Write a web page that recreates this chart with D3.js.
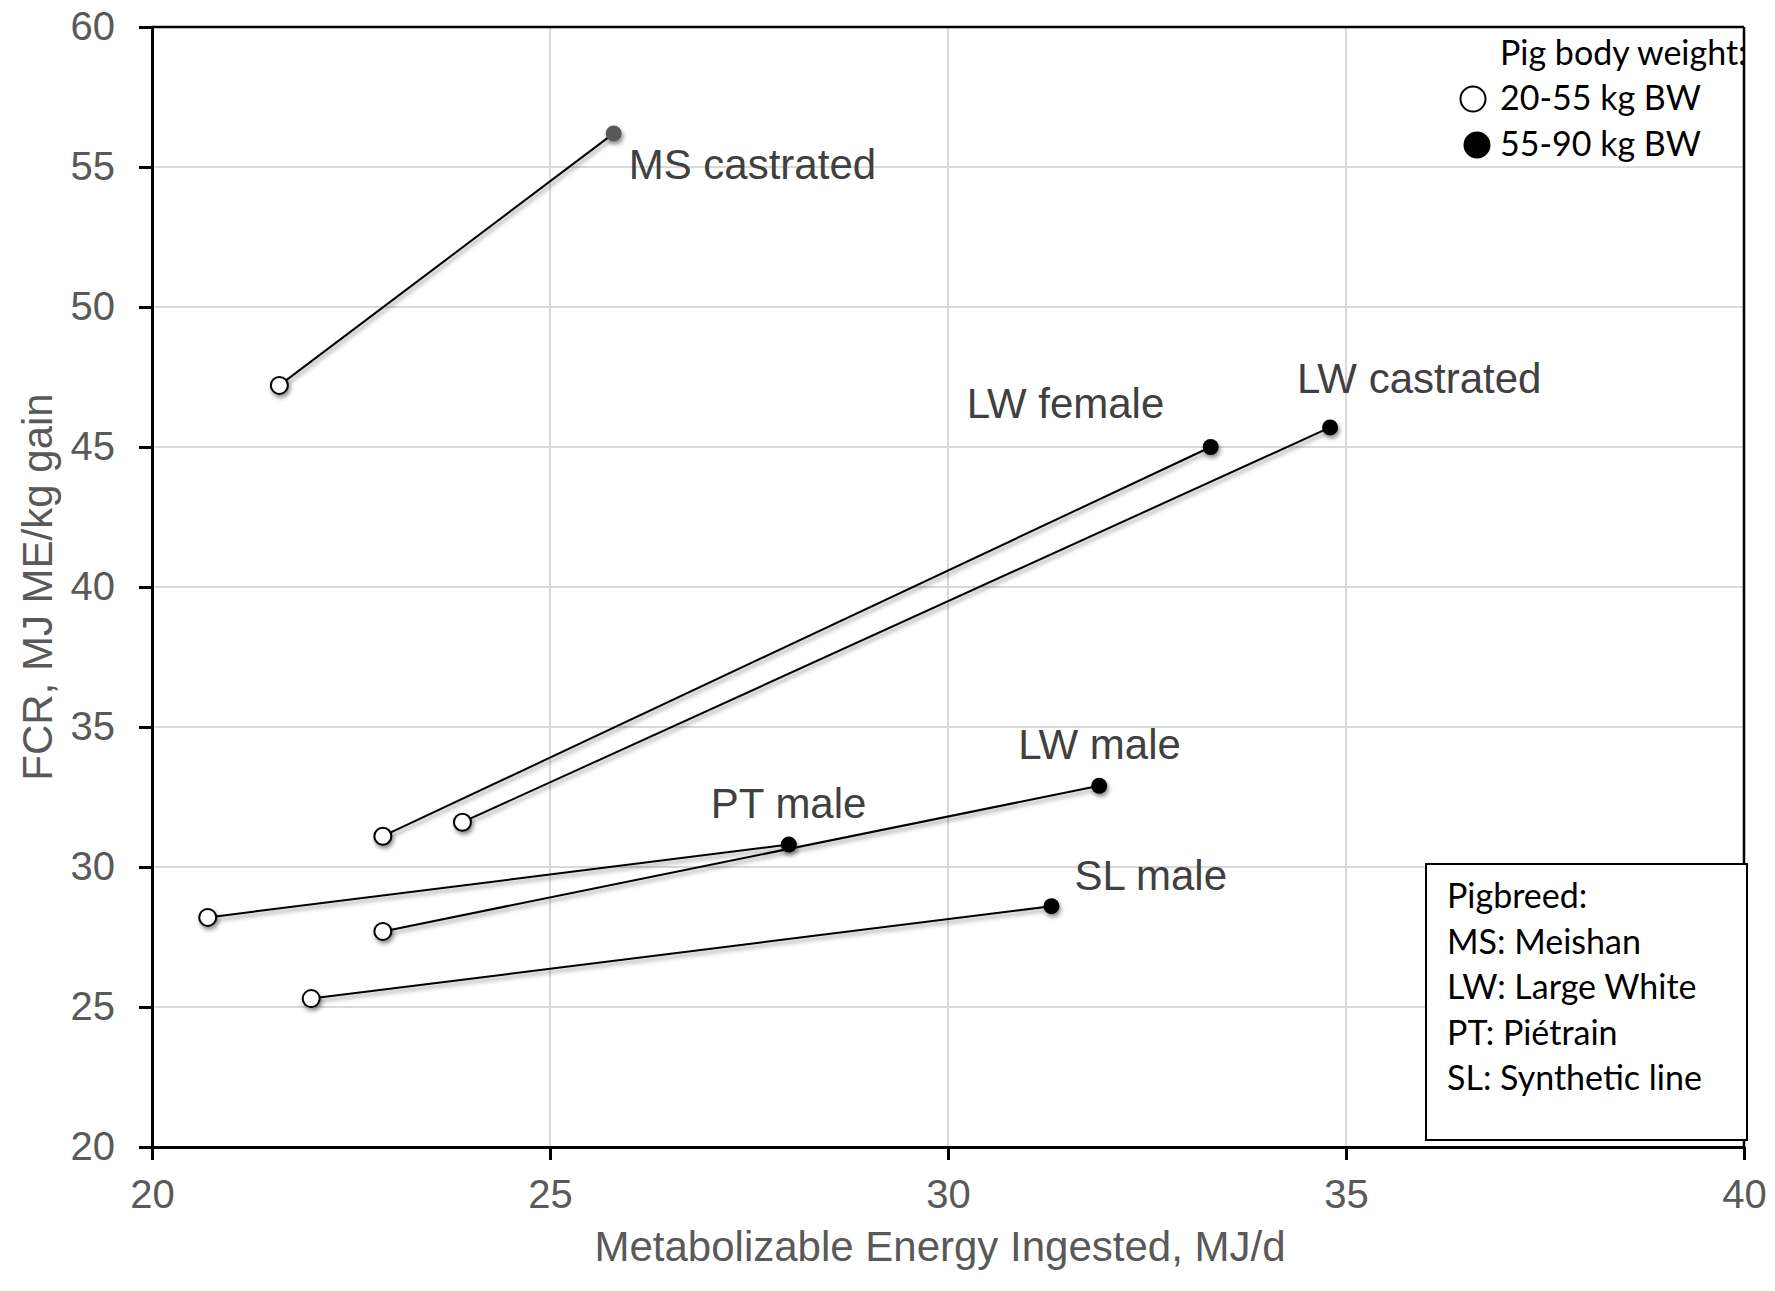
<!DOCTYPE html>
<html>
<head>
<meta charset="utf-8">
<script src="https://cdn.jsdelivr.net/npm/d3@7"></script>
<style>
  body { margin: 0; background: #fff; }
  svg { display: block; }
  .tick text { font-family: "Liberation Sans", Arial, sans-serif; fill: #595959; }
</style>
</head>
<body>
<div class="chart"></div>
<script>
// groups, start (20-55 kg BW) and end (55-90 kg BW) points
var groups = ["MS castrated", "LW female", "LW castrated", "PT male", "LW male", "SL male"];
var meStart = [21.6, 22.9, 23.9, 20.7, 22.9, 22.0];
var fcrStart = [47.2, 31.1, 31.6, 28.2, 27.7, 25.3];
var meEnd = [25.8, 33.3, 34.8, 28.0, 31.9, 31.3];
var fcrEnd = [56.2, 45.0, 45.7, 30.8, 32.9, 28.6];

var xTicks = [20, 25, 30, 35, 40];
var yTicks = [20, 25, 30, 35, 40, 45, 50, 55, 60];

var weightLegendTitle = "Pig body weight:";
var weightClasses = ["20-55 kg BW", "55-90 kg BW"];
var breedNotes = ["Pigbreed:", "MS: Meishan", "LW: Large White", "PT: Piétrain", "SL: Synthetic line"];

(function() {
  var width = 1775, height = 1291,
    margin = {top: 27, left: 152, right: 31, bottom: 144};

  var svg = d3.select(".chart").append("svg")
    .attr("width", width)
    .attr("height", height);

  var defs = svg.append("defs");
  var shadow = defs.append("filter").attr("id", "shadow")
    .attr("x", "-50%").attr("y", "-50%").attr("width", "200%").attr("height", "200%");
  shadow.append("feDropShadow")
    .attr("dx", 1.5).attr("dy", 3).attr("stdDeviation", 2.2)
    .attr("flood-color", "#000").attr("flood-opacity", 0.45);

  var x = d3.scaleLinear().domain([20, 40]).range([margin.left, width - margin.right]);
  var y = d3.scaleLinear().domain([20, 60]).range([height - margin.bottom, margin.top]);

  // gridlines
  svg.append("g").selectAll("line.gy")
    .data(yTicks)
    .enter().append("line")
      .attr("x1", x(20)).attr("x2", x(40))
      .attr("y1", function(d) { return y(d); })
      .attr("y2", function(d) { return y(d); })
      .attr("stroke", "#d9d9d9").attr("stroke-width", 2);
  svg.append("g").selectAll("line.gx")
    .data(xTicks)
    .enter().append("line")
      .attr("y1", y(20)).attr("y2", y(60))
      .attr("x1", function(d) { return x(d); })
      .attr("x2", function(d) { return x(d); })
      .attr("stroke", "#d9d9d9").attr("stroke-width", 2);

  // frame (top and right)
  svg.append("line").attr("x1", x(20)).attr("x2", x(40)).attr("y1", y(60)).attr("y2", y(60))
    .attr("stroke", "#000").attr("stroke-width", 2.5);
  svg.append("line").attr("x1", x(40)).attr("x2", x(40)).attr("y1", y(60)).attr("y2", y(20))
    .attr("stroke", "#000").attr("stroke-width", 2.5);

  // axes
  var xAxis = svg.append("g")
    .attr("transform", "translate(0," + y(20) + ")")
    .call(d3.axisBottom(x).tickValues(xTicks).tickSize(13).tickPadding(20).tickSizeOuter(0));
  var yAxis = svg.append("g")
    .attr("transform", "translate(" + x(20) + ",0)")
    .call(d3.axisLeft(y).tickValues(yTicks).tickSize(13).tickPadding(24).tickSizeOuter(0));
  [xAxis, yAxis].forEach(function(a) {
    a.select(".domain").attr("stroke", "#000").attr("stroke-width", 3);
    a.selectAll(".tick line").attr("stroke", "#000").attr("stroke-width", 3);
    a.selectAll(".tick text").style("font-size", "40px");
  });
  xAxis.selectAll(".tick text").attr("dy", "0.71em");

  // axis titles
  svg.append("text")
    .attr("x", 940).attr("y", 1261)
    .attr("text-anchor", "middle")
    .style("font-family", "'Liberation Sans', Arial, sans-serif")
    .style("font-size", "42px").style("fill", "#595959")
    .text("Metabolizable Energy Ingested, MJ/d");
  svg.append("text")
    .attr("transform", "translate(52,587) rotate(-90)")
    .attr("text-anchor", "middle")
    .style("font-family", "'Liberation Sans', Arial, sans-serif")
    .style("font-size", "42px").style("fill", "#595959")
    .text("FCR, MJ ME/kg gain");

  var rows = groups.map(function(g, i) {
    return {group: g, x0: meStart[i], y0: fcrStart[i], x1: meEnd[i], y1: fcrEnd[i]};
  });

  // connecting lines
  svg.append("g").attr("filter", "url(#shadow)")
    .selectAll("line")
    .data(rows)
    .enter().append("line")
      .attr("x1", function(d) { return x(d.x0); })
      .attr("y1", function(d) { return y(d.y0); })
      .attr("x2", function(d) { return x(d.x1); })
      .attr("y2", function(d) { return y(d.y1); })
      .attr("stroke", "#000").attr("stroke-width", 2);

  // markers
  var marks = svg.append("g").attr("filter", "url(#shadow)");
  marks.selectAll("circle.open")
    .data(rows)
    .enter().append("circle")
      .attr("cx", function(d) { return x(d.x0); })
      .attr("cy", function(d) { return y(d.y0); })
      .attr("r", 8.5)
      .attr("fill", "#fff").attr("stroke", "#000").attr("stroke-width", 2);
  marks.selectAll("circle.filled")
    .data(rows)
    .enter().append("circle")
      .attr("cx", function(d) { return x(d.x1); })
      .attr("cy", function(d) { return y(d.y1); })
      .attr("r", 8)
      .attr("fill", function(d, i) { return i === 0 ? "#595959" : "#000"; });

  // group labels, offset from the 55-90 kg point
  var labelOffsets = [[15, 31], [-244, -44], [-33, -49], [-78, -41], [-81, -42], [23, -31]];
  svg.append("g").selectAll("text")
    .data(rows)
    .enter().append("text")
      .attr("x", function(d, i) { return x(d.x1) + labelOffsets[i][0]; })
      .attr("y", function(d, i) { return y(d.y1) + labelOffsets[i][1]; })
      .attr("dy", "0.35em")
      .style("font-family", "'Liberation Sans', Arial, sans-serif")
      .style("font-size", "42px").style("fill", "#404040")
      .text(function(d) { return d.group; });

  // weight legend (top right)
  var legendFont = "Lato, 'Open Sans', sans-serif";
  svg.append("text")
    .attr("x", 1500).attr("y", 65)
    .style("font-family", legendFont).style("font-size", "34px").style("fill", "#000")
    .text(weightLegendTitle);
  var wl = svg.append("g").selectAll("g")
    .data(weightClasses)
    .enter().append("g")
      .attr("transform", function(d, i) { return "translate(0," + (110 + i * 46) + ")"; });
  wl.append("circle")
    .attr("cx", function(d, i) { return i === 0 ? 1473 : 1477; })
    .attr("cy", -11)
    .attr("r", 12.5)
    .attr("fill", function(d, i) { return i === 0 ? "#fff" : "#000"; })
    .attr("stroke", "#000").attr("stroke-width", 2);
  wl.append("text")
    .attr("x", 1500).attr("y", 0)
    .style("font-family", legendFont).style("font-size", "34px").style("fill", "#000")
    .text(function(d) { return d; });

  // breed legend box (bottom right)
  svg.append("rect")
    .attr("x", 1426).attr("y", 864).attr("width", 321).attr("height", 276)
    .attr("fill", "#fff").attr("stroke", "#000").attr("stroke-width", 2);
  svg.append("g").selectAll("text")
    .data(breedNotes)
    .enter().append("text")
      .attr("x", 1447)
      .attr("y", function(d, i) { return 908 + i * 45.5; })
      .style("font-family", legendFont).style("font-size", "34px").style("fill", "#000")
      .text(function(d) { return d; });
})();
</script>
</body>
</html>
